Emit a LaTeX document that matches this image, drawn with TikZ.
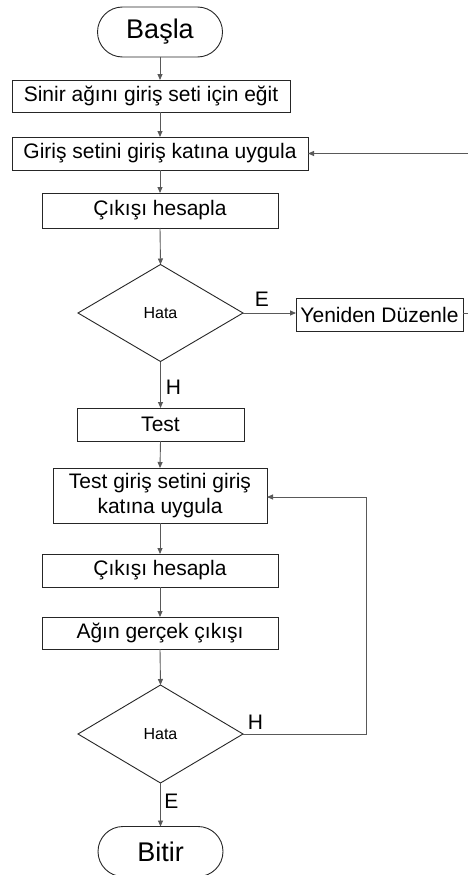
\documentclass[tikz,border=0pt]{standalone}
\usepackage{fontspec}
\setmainfont{Liberation Sans}
\usetikzlibrary{shapes.geometric,arrows.meta}
\begin{document}
\begin{tikzpicture}[x=1pt,y=-1pt,
  every node/.style={inner sep=0pt,outer sep=0pt},
  box/.style={draw=black!85,line width=0.9pt,rectangle,
    font=\fontsize{21}{25}\selectfont,align=center},
  term/.style={draw=black!85,line width=0.9pt,rectangle,rounded corners=25pt,
    minimum width=125pt,minimum height=50pt,font=\fontsize{27}{30}\selectfont},
  decision/.style={draw=black!85,line width=0.9pt,diamond,
    minimum width=165pt,minimum height=97pt,font=\fontsize{16}{18}\selectfont},
  flow/.style={draw=black!65,line width=0.9pt,-{Triangle[length=6pt,width=5pt]}},
  plain/.style={draw=black!65,line width=0.9pt},
  lbl/.style={font=\fontsize{21}{25}\selectfont}]
\useasboundingbox (0,0) rectangle (468,875);
\clip (0,0) rectangle (468,875);
\fill[white] (0,0) rectangle (468,875);

% training loop
\node[term] (start) at (160,32) {Başla};
\node[box,minimum width=278pt,minimum height=32pt] (train) at (151,96)
  {Sinir ağını giriş seti için eğit};
\node[box,minimum width=296pt,minimum height=33pt] (apply) at (160,153.5)
  {Giriş setini giriş katına uygula};
\node[box,minimum width=236pt,minimum height=35pt] (out1) at (160,210.5)
  {Çıkışı hesapla};
\node[decision] (err1) at (160.5,313) {Hata};
\node[box,minimum width=167pt,minimum height=33pt] (fix) at (379.5,314.5)
  {Yeniden Düzenle};

% test loop
\node[box,minimum width=167pt,minimum height=33pt] (test) at (160.5,424.5) {Test};
\node[box,minimum width=214pt,minimum height=55pt] (tapply) at (160,495.5)
  {Test giriş setini giriş\\katına uygula};
\node[box,minimum width=236pt,minimum height=33pt] (out2) at (160,570.5)
  {Çıkışı hesapla};
\node[box,minimum width=236pt,minimum height=32pt] (real) at (160,633)
  {Ağın gerçek çıkışı};
\node[decision,minimum height=98pt] (err2) at (160.5,734) {Hata};
\node[term] (stop) at (160.5,851.5) {Bitir};

% connectors
\coordinate (c0) at (160,57);
\draw[flow] (c0) -- (c0 |- train.north);
\draw[flow] (c0 |- train.south) -- (c0 |- apply.north);
\draw[flow] (apply.south) -- (out1.north);
\draw[flow] (out1.south) -- (err1.north);
\draw[flow] (err1.east) -- (err1.east -| fix.west);
\coordinate (rt) at (480,313);
\draw[plain] (err1.east -| fix.east) -- (rt);
\draw[flow] (rt) -- (rt |- apply.east) -- (apply.east);
\draw[flow] (err1.south) -- (test.north);
\draw[flow] (test.south) -- (tapply.north);
\draw[flow] (tapply.south) -- (out2.north);
\draw[flow] (out2.south) -- (real.north);
\draw[flow] (real.south) -- (err2.north);
\coordinate (loop) at (366,734);
\draw[flow] (err2.east) -- (loop) -- (loop |- 0,497) -- (tapply.east |- 0,497);
\draw[flow] (err2.south) -- (stop.north);

% branch labels
\node[lbl] (le1) at (262,299.5) {E};
\node[lbl] (lh1) at (173.5,387) {H};
\node[lbl] (lh2) at (255.5,722) {H};
\node[lbl] (le2) at (171.5,801) {E};
\end{tikzpicture}
\end{document}
